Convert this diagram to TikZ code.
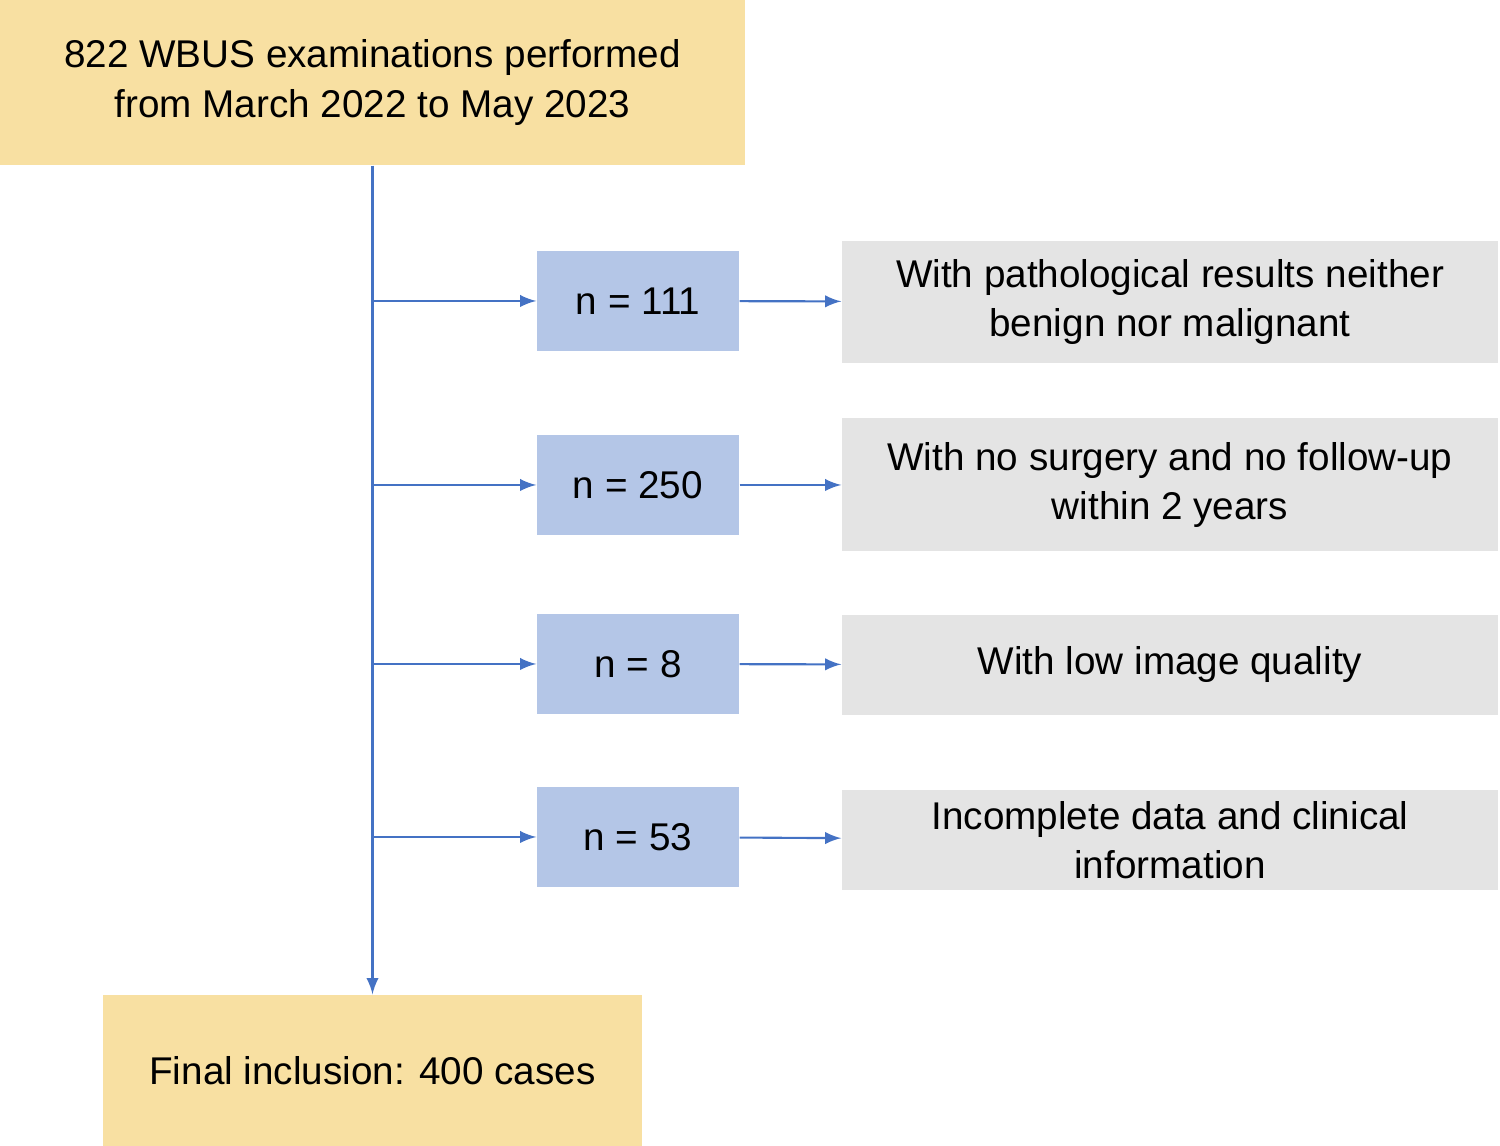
\documentclass[tikz,border=0pt]{standalone}
\usepackage{fontspec}
\setmainfont{Liberation Sans}
\usetikzlibrary{positioning}
\definecolor{startfill}{HTML}{F8E0A2}
\definecolor{countfill}{HTML}{B4C6E7}
\definecolor{reasonfill}{HTML}{E4E4E4}
\definecolor{flowline}{HTML}{4472C4}
\tikzstyle{endnode} = [fill=startfill, align=center, inner sep=0pt]
\tikzstyle{countnode} = [fill=countfill, minimum width=2.02cm, minimum height=1.0cm, inner sep=0pt]
\tikzstyle{reasonnode} = [fill=reasonfill, minimum width=6.56cm, align=center, inner sep=0pt]
\tikzstyle{flow} = [flowline, line width=0.6pt, -latex]

\begin{document}
\begin{tikzpicture}[font=\fontsize{11}{14}\selectfont]
  \useasboundingbox (0,0) rectangle (15,11.46);
  \node[endnode, minimum width=7.45cm, minimum height=1.65cm] (start) at (3.725,10.635) {822 WBUS examinations performed\\from March 2022 to May 2023};
  \node[endnode, minimum width=5.39cm, minimum height=1.51cm] (final) at (3.725,0.755) {Final inclusion: 400 cases};

  \node[countnode] (n1) at (6.38,8.45) {n = 111};
  \node[countnode] (n2) at (6.38,6.61) {n = 250};
  \node[countnode] (n3) at (6.38,4.82) {n = 8};
  \node[countnode] (n4) at (6.38,3.09) {n = 53};

  \node[reasonnode, minimum height=1.22cm] (r1) at (11.7,8.44) {With pathological results neither\\benign nor malignant};
  \node[reasonnode, minimum height=1.33cm] (r2) at (11.7,6.61) {With no surgery and no follow-up\\within 2 years};
  \node[reasonnode, minimum height=1.0cm] (r3) at (11.7,4.81) {With low image quality};
  \node[reasonnode, minimum height=1.0cm] (r4) at (11.7,3.06) {Incomplete data and clinical\\information};

  \draw[flow] (start) -- (final);
  \foreach \i in {1,...,4} {
    \coordinate (b\i) at (start.south |- n\i);
    \draw[flow] (b\i) -- (n\i);
    \draw[flow] (n\i) -- (r\i);
  }
\end{tikzpicture}
\end{document}
